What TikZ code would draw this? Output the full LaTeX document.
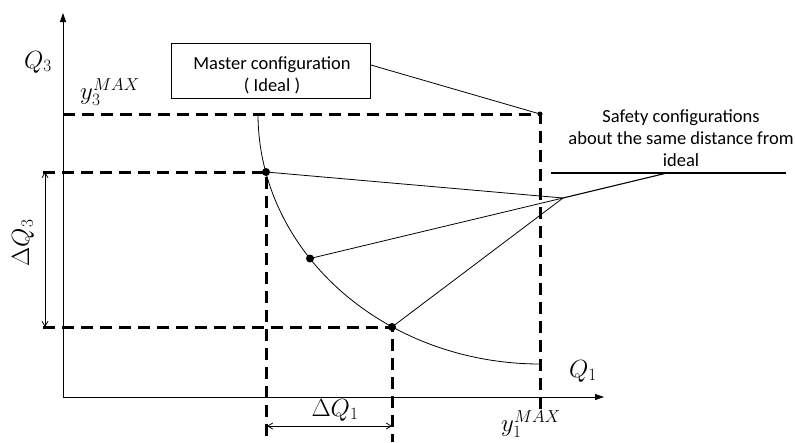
\documentclass[tikz,border=0pt]{standalone}
\usepackage{fontspec}
\setmainfont{Carlito}
\usetikzlibrary{arrows.meta}
\begin{document}
\begin{tikzpicture}[x=1pt,y=-1pt,
  axis/.style={line width=0.9pt,-{Triangle[length=9pt,width=6pt]}},
  thickdash/.style={line width=3pt,dash pattern=on 12pt off 7pt},
  thinline/.style={line width=0.8pt},
  dimarrow/.style={line width=0.8pt,{Straight Barb[length=5pt,width=6pt]}-{Straight Barb[length=5pt,width=6pt]}},
  dot/.style={circle,fill=black,inner sep=0pt,minimum size=8pt},
  smalldot/.style={circle,fill=black,inner sep=0pt,minimum size=5pt},
  txt/.style={font=\fontsize{18.5}{22}\selectfont,align=center,inner sep=0pt},
  mathlbl/.style={font=\fontsize{25}{29}\selectfont,inner sep=0pt}]
\useasboundingbox (0,0) rectangle (795,442);
% axes
\coordinate (O) at (63,397);
\coordinate (ytip) at (63,13);
\coordinate (xtip) at (604,397);
\draw[axis] (O) -- (ytip);
\draw[axis] (O) -- (xtip);
% key points
\coordinate (m) at (540,114);
\coordinate (y3l) at (63,114);
\coordinate (mb) at (540,410);
\coordinate (p1) at (266,172);
\coordinate (p2) at (310,258.5);
\coordinate (p3) at (392,327);
\coordinate (p1l) at (43,172);
\coordinate (p3l) at (43,327);
\coordinate (p1b) at (266,442);
\coordinate (p3b) at (392,442);
% dashed guides
\draw[thickdash] (y3l) -- (m) -- (mb);
\draw[thickdash] (p1l) -- (p1) -- (p1b);
\draw[thickdash] (p3l) -- (p3) -- (p3b);
% curve (quarter ellipse)
\draw[thinline] plot[domain=0:90,samples=90,smooth,variable=\t] ({540-282*cos(\t)},{114+250*sin(\t)});
% box
\node[draw,line width=0.8pt,minimum width=199pt,minimum height=55pt] (box) at (271,70.5) {};
\node[txt] (boxt) at (272,75) {Master configuration\\( Ideal )};
\draw[thinline] ([yshift=5.5pt]box.east) -- (m);
% safety
\coordinate (hub) at (563,198);
\coordinate (sl) at (551,173);
\coordinate (sr) at (786,173);
\coordinate (sm) at (667,173);
\draw[line width=1.1pt] (sl) -- (sr);
\draw[line width=1.1pt] (hub) -- (sm);
\draw[thinline] (p1) -- (hub);
\draw[thinline] (p2) -- (hub);
\draw[thinline] (p3) -- (hub);
\node[txt] (safety) at (681,138) {Safety configurations\\about the same distance from\\ideal};
% dots
\node[dot] (d1) at (p1) {};
\node[dot] (d2) at (p2) {};
\node[dot] (d3) at (p3) {};
\node[smalldot] (dm) at (m) {};
% dimension arrows
\coordinate (a3t) at (45,172);
\coordinate (a3b) at (45,327);
\draw[dimarrow] (a3t) -- (a3b);
\node[mathlbl,rotate=90] (dq3) at (23,243) {$\Delta Q_3$};
\coordinate (a1l) at (267,426);
\coordinate (a1r) at (392,426);
\draw[dimarrow] (a1l) -- (a1r);
\node[mathlbl] (dq1) at (335,410) {$\Delta Q_1$};
% labels
\node[mathlbl] (q3) at (38,62) {$Q_3$};
\node[mathlbl] (q1) at (583,371) {$Q_1$};
\node[mathlbl] (y3) at (110,92) {$y_3^{MAX}$};
\node[mathlbl] (y1) at (531,424) {$y_1^{MAX}$};
\end{tikzpicture}
\end{document}
